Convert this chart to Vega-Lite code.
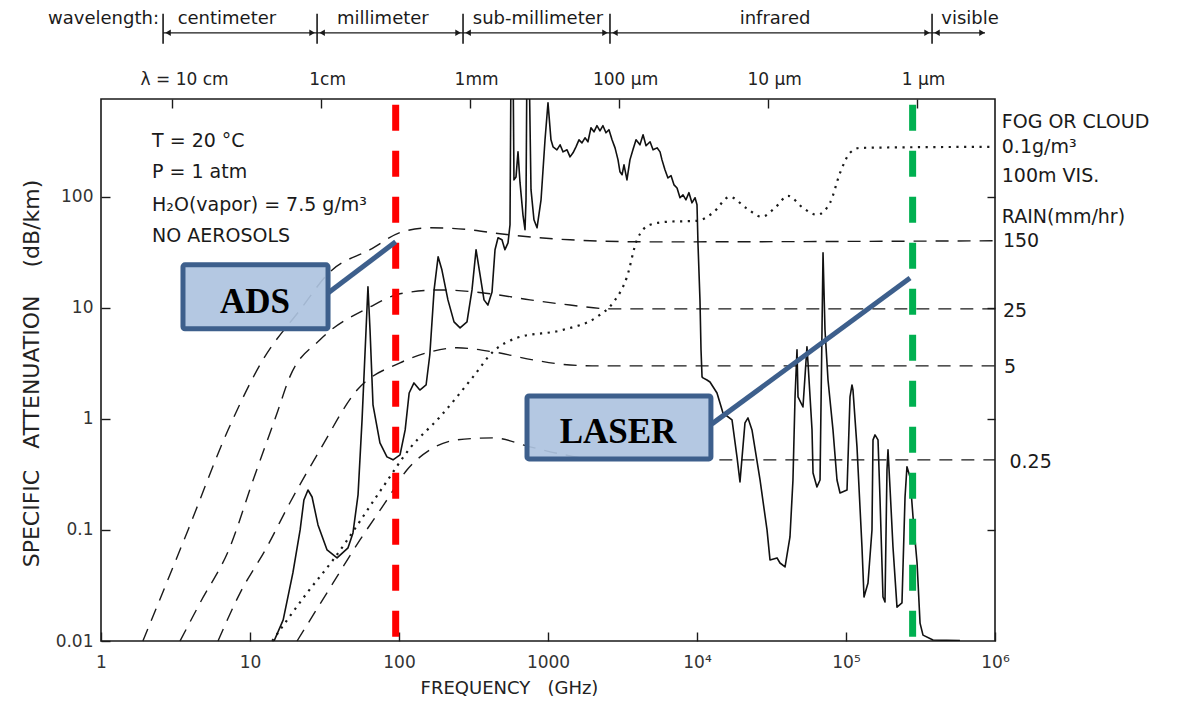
{
  "$schema": "https://vega.github.io/schema/vega-lite/v6.json",
  "width": 894,
  "height": 542,
  "autosize": {"type": "none"},
  "padding": {"left": 101, "top": 99, "right": 201, "bottom": 61},
  "background": "#ffffff",
  "config": {
    "view": {"stroke": "#1a1a1a", "strokeWidth": 1.6},
    "font": "DejaVu Sans",
    "axis": {"labelFont": "DejaVu Sans", "titleFont": "DejaVu Sans"}
  },
  "resolve": {"axis": {"x": "independent", "y": "independent"}},
  "datasets": {
    "rain": [
      {"s": "150", "f": 1.91, "a": 0.01}, {"s": "150", "f": 3.84, "a": 0.1}, {"s": "150", "f": 7.12, "a": 0.794}, {"s": "150", "f": 12.2, "a": 3.4}, {"s": "150", "f": 21.7, "a": 9.6}, {"s": "150", "f": 34.4, "a": 21.1}, {"s": "150", "f": 63.9, "a": 33.4}, {"s": "150", "f": 105, "a": 48.4}, {"s": "150", "f": 161, "a": 52.6}, {"s": "150", "f": 300, "a": 50.5}, {"s": "150", "f": 476, "a": 46.5}, {"s": "150", "f": 1406, "a": 41.0}, {"s": "150", "f": 4840, "a": 39.3}, {"s": "150", "f": 1000000, "a": 40.2},
      {"s": "25", "f": 3.39, "a": 0.01}, {"s": "25", "f": 4.62, "a": 0.022}, {"s": "25", "f": 7.34, "a": 0.0703}, {"s": "25", "f": 10.5, "a": 0.282}, {"s": "25", "f": 15.2, "a": 1.13}, {"s": "25", "f": 18.5, "a": 2.39}, {"s": "25", "f": 29.5, "a": 5.15}, {"s": "25", "f": 63.9, "a": 10.2}, {"s": "25", "f": 101.6, "a": 13.4}, {"s": "25", "f": 188, "a": 14.5}, {"s": "25", "f": 408, "a": 13.4}, {"s": "25", "f": 757, "a": 11.8}, {"s": "25", "f": 1406, "a": 10.6}, {"s": "25", "f": 2606, "a": 9.8}, {"s": "25", "f": 1000000, "a": 9.8},
      {"s": "5", "f": 6.1, "a": 0.01}, {"s": "5", "f": 8.57, "a": 0.027}, {"s": "5", "f": 13.0, "a": 0.0703}, {"s": "5", "f": 18.5, "a": 0.175}, {"s": "5", "f": 29.5, "a": 0.526}, {"s": "5", "f": 52.3, "a": 1.82}, {"s": "5", "f": 101.6, "a": 3.2}, {"s": "5", "f": 154, "a": 3.94}, {"s": "5", "f": 245, "a": 4.37}, {"s": "5", "f": 427, "a": 4.02}, {"s": "5", "f": 793, "a": 3.4}, {"s": "5", "f": 1406, "a": 3.06}, {"s": "5", "f": 2232, "a": 3.0}, {"s": "5", "f": 1000000, "a": 3.0},
      {"s": "0.25", "f": 20.7, "a": 0.01}, {"s": "0.25", "f": 34.4, "a": 0.03}, {"s": "0.25", "f": 54.7, "a": 0.0813}, {"s": "0.25", "f": 80.5, "a": 0.175}, {"s": "0.25", "f": 113, "a": 0.347}, {"s": "0.25", "f": 161, "a": 0.526}, {"s": "0.25", "f": 245, "a": 0.647}, {"s": "0.25", "f": 427, "a": 0.675}, {"s": "0.25", "f": 757, "a": 0.56}, {"s": "0.25", "f": 1300, "a": 0.474}, {"s": "0.25", "f": 2232, "a": 0.428}, {"s": "0.25", "f": 1000000, "a": 0.428}
    ],
    "fog": [
      {"f": 14.1, "a": 0.01}, {"f": 24.1, "a": 0.027}, {"f": 36.1, "a": 0.0537}, {"f": 78.1, "a": 0.244}, {"f": 119, "a": 0.548}, {"f": 188, "a": 1.04}, {"f": 314, "a": 2.39}, {"f": 427, "a": 4.02}, {"f": 620, "a": 5.37}, {"f": 1262, "a": 6.34}, {"f": 2133, "a": 8.3}, {"f": 2730, "a": 11.1}, {"f": 3388, "a": 19.0}, {"f": 3956, "a": 41.0}, {"f": 4840, "a": 56.0}, {"f": 6295, "a": 59.6}, {"f": 10000, "a": 60.8}, {"f": 12800, "a": 71.8}, {"f": 16600, "a": 100}, {"f": 21300, "a": 79.6}, {"f": 27300, "a": 66.1}, {"f": 33900, "a": 81.3}, {"f": 40800, "a": 102}, {"f": 51400, "a": 79.6}, {"f": 63800, "a": 68.9}, {"f": 78100, "a": 88.3}, {"f": 91200, "a": 164}, {"f": 106400, "a": 249}, {"f": 124000, "a": 276}, {"f": 925000, "a": 282}
    ],
    "clear": [
      {"f": 14.5, "a": 0.01}, {"f": 16.7, "a": 0.0155}, {"f": 19.4, "a": 0.041}, {"f": 21.7, "a": 0.1}, {"f": 23.0, "a": 0.186}, {"f": 24.5, "a": 0.229}, {"f": 26.1, "a": 0.198}, {"f": 28.6, "a": 0.111}, {"f": 32.9, "a": 0.066}, {"f": 38.4, "a": 0.056}, {"f": 45.5, "a": 0.069}, {"f": 49.1, "a": 0.094}, {"f": 53.1, "a": 0.207}, {"f": 56.5, "a": 0.98}, {"f": 60.1, "a": 6.34}, {"f": 61.9, "a": 15.5}, {"f": 63.9, "a": 6.34}, {"f": 66.9, "a": 1.34}, {"f": 74.5, "a": 0.608}, {"f": 83.0, "a": 0.455}, {"f": 91.2, "a": 0.428}, {"f": 101.6, "a": 0.474}, {"f": 110, "a": 0.796}, {"f": 117, "a": 1.71}, {"f": 126, "a": 2.11}, {"f": 138, "a": 1.82}, {"f": 152, "a": 2.02}, {"f": 161, "a": 3.78}, {"f": 172, "a": 14.5}, {"f": 183, "a": 28.8}, {"f": 194, "a": 22.0}, {"f": 213, "a": 11.8}, {"f": 234, "a": 7.48}, {"f": 257, "a": 6.61}, {"f": 286, "a": 7.48}, {"f": 309, "a": 14.5}, {"f": 329, "a": 33.4}, {"f": 350, "a": 19.8}, {"f": 372, "a": 11.8}, {"f": 395, "a": 10.6}, {"f": 421, "a": 13.9}, {"f": 441, "a": 33.4}, {"f": 462, "a": 42.8}, {"f": 491, "a": 41.0}, {"f": 514, "a": 33.4}, {"f": 539, "a": 38.5}, {"f": 556, "a": 56.0}, {"f": 565, "a": 2000}, {"f": 582, "a": 2000}, {"f": 591, "a": 142}, {"f": 610, "a": 151}, {"f": 629, "a": 254}, {"f": 649, "a": 134}, {"f": 679, "a": 68.9}, {"f": 701, "a": 50.5}, {"f": 712, "a": 94}, {"f": 723, "a": 2000}, {"f": 745, "a": 2000}, {"f": 769, "a": 116}, {"f": 805, "a": 62.1}, {"f": 844, "a": 52.6}, {"f": 898, "a": 94}, {"f": 955, "a": 326}, {"f": 1000, "a": 703}, {"f": 1047, "a": 326},
      {"f": 1081, "a": 282}, {"f": 1148, "a": 265}, {"f": 1205, "a": 294}, {"f": 1262, "a": 254}, {"f": 1342, "a": 265}, {"f": 1406, "a": 229}, {"f": 1472, "a": 249}, {"f": 1541, "a": 282}, {"f": 1614, "a": 326}, {"f": 1690, "a": 306}, {"f": 1771, "a": 340}, {"f": 1854, "a": 313}, {"f": 1943, "a": 419}, {"f": 2035, "a": 385}, {"f": 2131, "a": 437}, {"f": 2232, "a": 393}, {"f": 2338, "a": 437}, {"f": 2449, "a": 377}, {"f": 2565, "a": 402}, {"f": 2690, "a": 326}, {"f": 2818, "a": 276}, {"f": 2951, "a": 215}, {"f": 3041, "a": 168}, {"f": 3141, "a": 158}, {"f": 3236, "a": 194}, {"f": 3388, "a": 142}, {"f": 3548, "a": 215}, {"f": 3715, "a": 265}, {"f": 3899, "a": 326}, {"f": 4140, "a": 294}, {"f": 4345, "a": 362}, {"f": 4550, "a": 288}, {"f": 4842, "a": 313}, {"f": 5070, "a": 265}, {"f": 5395, "a": 276}, {"f": 5649, "a": 254}, {"f": 5821, "a": 215}, {"f": 6095, "a": 175}, {"f": 6383, "a": 148}, {"f": 6699, "a": 155}, {"f": 7015, "a": 128}, {"f": 7345, "a": 120}, {"f": 7691, "a": 98}, {"f": 8054, "a": 104}, {"f": 8433, "a": 94}, {"f": 8831, "a": 109}, {"f": 9247, "a": 88.3}, {"f": 9705, "a": 98}, {"f": 10000, "a": 84.7}, {"f": 10160, "a": 37.0}, {"f": 10470, "a": 11.8}, {"f": 10640, "a": 4.19}, {"f": 10810, "a": 2.39},
      {"f": 10970, "a": 2.34}, {"f": 11670, "a": 2.24}, {"f": 12220, "a": 2.15}, {"f": 13620, "a": 1.71}, {"f": 14940, "a": 1.13}, {"f": 17180, "a": 0.98}, {"f": 18550, "a": 0.455}, {"f": 19430, "a": 0.271}, {"f": 20990, "a": 0.92}, {"f": 21990, "a": 1.02}, {"f": 23390, "a": 0.796}, {"f": 26490, "a": 0.282}, {"f": 29510, "a": 0.1}, {"f": 30900, "a": 0.0537}, {"f": 34440, "a": 0.056}, {"f": 36060, "a": 0.0504}, {"f": 38990, "a": 0.0464}, {"f": 42070, "a": 0.0865}, {"f": 44060, "a": 0.282}, {"f": 45500, "a": 1.58}, {"f": 46900, "a": 4.19}, {"f": 47640, "a": 1.58}, {"f": 51430, "a": 1.28}, {"f": 54700, "a": 4.45}, {"f": 55590, "a": 3.2}, {"f": 59150, "a": 0.796}, {"f": 60080, "a": 0.326}, {"f": 63830, "a": 0.244}, {"f": 66950, "a": 0.282}, {"f": 69020, "a": 6.34}, {"f": 70120, "a": 31.3}, {"f": 72280, "a": 6.34}, {"f": 75730, "a": 2.24}, {"f": 81780, "a": 0.796}, {"f": 87000, "a": 0.282}, {"f": 91180, "a": 0.215}, {"f": 101600, "a": 0.229}, {"f": 106400, "a": 1.58}, {"f": 109700, "a": 2.02}, {"f": 111400, "a": 1.82}, {"f": 118500, "a": 0.56}, {"f": 128000, "a": 0.0703}, {"f": 132100, "a": 0.0249}, {"f": 140500, "a": 0.0333}, {"f": 149400, "a": 0.1}, {"f": 151800, "a": 0.647}, {"f": 156600, "a": 0.718}, {"f": 164000, "a": 0.647}, {"f": 169000, "a": 0.198}, {"f": 177100, "a": 0.0249}, {"f": 182700, "a": 0.0225}, {"f": 188400, "a": 0.347}, {"f": 191400, "a": 0.526}, {"f": 197300, "a": 0.244}, {"f": 206700, "a": 0.0703}, {"f": 219900, "a": 0.0202}, {"f": 237500, "a": 0.022}, {"f": 249000, "a": 0.198}, {"f": 256500, "a": 0.37}, {"f": 268900, "a": 0.3}, {"f": 281700, "a": 0.131}, {"f": 299900, "a": 0.0504}, {"f": 314000, "a": 0.0145}, {"f": 328700, "a": 0.0113}, {"f": 383700, "a": 0.0102}, {"f": 582000, "a": 0.0101}
    ],
    "vlines": [
      {"name": "ADS", "f": 95, "a": 674, "a2": 0.01},
      {"name": "LASER", "f": 280000, "a": 674, "a2": 0.01}
    ],
    "connectors": [
      {"name": "ADS", "f": 33.4, "a": 13.6, "f2": 95, "a2": 39.3},
      {"name": "LASER", "f": 12600, "a": 0.902, "f2": 269000, "a2": 18.6}
    ],
    "boxes": [
      {"name": "ADS", "f": 3.55, "f2": 33.4, "a": 24.4, "a2": 6.47},
      {"name": "LASER", "f": 723, "f2": 12400, "a": 1.61, "a2": 0.436}
    ],
    "boxtext": [
      {"t": "ADS", "f": 10.8, "a": 9.02},
      {"t": "LASER", "f": 2951, "a": 0.608}
    ],
    "conds": [
      {"t": "T = 20 °C", "f": 2.2, "a": 282},
      {"t": "P = 1 atm", "f": 2.2, "a": 148},
      {"t": "H₂O(vapor) = 7.5 g/m³", "f": 2.2, "a": 74.8},
      {"t": "NO AEROSOLS", "f": 2.2, "a": 39.3}
    ],
    "rightlabels": [
      {"t": "FOG OR CLOUD", "f": 1110000, "a": 419},
      {"t": "0.1g/m³", "f": 1110000, "a": 249},
      {"t": "100m VIS.", "f": 1110000, "a": 136},
      {"t": "RAIN(mm/hr)", "f": 1110000, "a": 58.3},
      {"t": "150", "f": 1130000, "a": 35.5},
      {"t": "25", "f": 1130000, "a": 8.3},
      {"t": "5", "f": 1150000, "a": 2.59},
      {"t": "0.25", "f": 1250000, "a": 0.362}
    ],
    "bandlabels": [
      {"t": "centimeter", "f": 7.0, "a": 3620},
      {"t": "millimeter", "f": 78, "a": 3620},
      {"t": "sub-millimeter", "f": 857, "a": 3620},
      {"t": "infrared", "f": 33400, "a": 3620},
      {"t": "visible", "f": 680000, "a": 3620}
    ],
    "bandbars": [
      {"f": 2.61, "a": 4460, "a2": 2390},
      {"f": 28.2, "a": 4460, "a2": 2390},
      {"f": 269, "a": 4460, "a2": 2390},
      {"f": 2606, "a": 4460, "a2": 2390},
      {"f": 378000, "a": 4460, "a2": 2390}
    ],
    "bandlines": [
      {"f": 2.61, "f2": 28.2, "a": 3000},
      {"f": 28.2, "f2": 269, "a": 3000},
      {"f": 269, "f2": 2606, "a": 3000},
      {"f": 2606, "f2": 378000, "a": 3000},
      {"f": 378000, "f2": 857000, "a": 3000}
    ],
    "arrows": [
      {"d": "L", "f": 2.82, "a": 3000}, {"d": "R", "f": 26.1, "a": 3000},
      {"d": "L", "f": 30.5, "a": 3000}, {"d": "R", "f": 249, "a": 3000},
      {"d": "L", "f": 291, "a": 3000}, {"d": "R", "f": 2413, "a": 3000},
      {"d": "L", "f": 2814, "a": 3000}, {"d": "R", "f": 350000, "a": 3000},
      {"d": "L", "f": 408000, "a": 3000}, {"d": "R", "f": 818000, "a": 3000}
    ]
  },
  "layer": [
    {
      "data": {"values": [{"f": 1, "a": 0.01}]},
      "mark": {"type": "point", "opacity": 0},
      "encoding": {
        "x": {"field": "f", "type": "quantitative", "scale": {"type": "log", "domain": [1, 1000000], "nice": false},
          "axis": {"orient": "bottom", "values": [1, 10, 100, 1000, 10000, 100000, 1000000],
            "labelExpr": "datum.value >= 10000 ? (datum.value == 10000 ? '10⁴' : (datum.value == 100000 ? '10⁵' : '10⁶')) : format(datum.value, '~g')",
            "domain": false, "grid": false, "tickSize": -9, "tickWidth": 1.4, "tickColor": "#1a1a1a",
            "labelPadding": 22, "labelFontSize": 17, "labelColor": "#333333", "labelFlush": false, "labelOverlap": false,
            "title": "FREQUENCY\u00a0\u00a0\u00a0(GHz)", "titleFontSize": 18, "titleFontWeight": "normal", "titleColor": "#222222",
            "titleX": 408, "titleY": 47, "titleAlign": "center", "titleBaseline": "middle"}},
        "y": {"field": "a", "type": "quantitative", "scale": {"type": "log", "domain": [0.01, 760], "nice": false},
          "axis": {"orient": "left", "values": [0.01, 0.1, 1, 10, 100], "labelExpr": "format(datum.value, '~g')",
            "domain": false, "grid": false, "tickSize": -9, "tickWidth": 1.4, "tickColor": "#1a1a1a",
            "labelPadding": 17, "labelFontSize": 17, "labelColor": "#333333", "labelFlush": false, "labelOverlap": false,
            "title": "SPECIFIC\u00a0\u00a0\u00a0ATTENUATION\u00a0\u00a0\u00a0\u00a0(dB/km)", "titleFontSize": 22, "titleFontWeight": "normal", "titleColor": "#222222",
            "titleAngle": -90, "titleX": -70, "titleY": 274, "titleAlign": "center", "titleBaseline": "middle"}}
      }
    },
    {
      "data": {"values": [{"f": 1, "a": 0.01}]},
      "mark": {"type": "point", "opacity": 0},
      "encoding": {
        "x": {"field": "f", "type": "quantitative", "scale": {"type": "log", "domain": [1, 1000000], "nice": false},
          "axis": {"orient": "top", "values": [3, 30, 300, 3000, 30000, 300000],
            "labelExpr": "datum.value == 3 ? 'λ = 10 cm' : (datum.value == 30 ? '1cm' : (datum.value == 300 ? '1mm' : (datum.value == 3000 ? '100 μm' : (datum.value == 30000 ? '10 μm' : '1 μm'))))",
            "domain": false, "grid": false, "tickSize": -9, "tickWidth": 1.4, "tickColor": "#1a1a1a",
            "labelPadding": 20, "labelOffset": {"condition": {"test": "datum.value == 3", "value": 12}, "value": 6},
            "labelFontSize": 17, "labelColor": "#222222", "labelFlush": false, "labelOverlap": false, "title": null}},
        "y": {"field": "a", "type": "quantitative", "scale": {"type": "log", "domain": [0.01, 760], "nice": false},
          "axis": {"orient": "right", "values": [0.1, 1, 10, 100], "labels": false, "domain": false, "grid": false,
            "tickSize": -8, "tickWidth": 1.4, "tickColor": "#1a1a1a", "title": null}}
      }
    },
    {
      "data": {"name": "rain"},
      "mark": {"type": "line", "stroke": "#1a1a1a", "strokeWidth": 1.4, "strokeDash": [13, 9], "interpolate": "monotone"},
      "encoding": {
        "x": {"field": "f", "type": "quantitative", "scale": {"type": "log", "domain": [1, 1000000], "nice": false}, "axis": null},
        "y": {"field": "a", "type": "quantitative", "scale": {"type": "log", "domain": [0.01, 760], "nice": false}, "axis": null},
        "detail": {"field": "s", "type": "nominal"}
      }
    },
    {
      "data": {"name": "fog"},
      "mark": {"type": "line", "stroke": "#1a1a1a", "strokeWidth": 2.2, "strokeDash": [2.2, 5.5], "interpolate": "monotone"},
      "encoding": {
        "x": {"field": "f", "type": "quantitative", "scale": {"type": "log", "domain": [1, 1000000], "nice": false}, "axis": null},
        "y": {"field": "a", "type": "quantitative", "scale": {"type": "log", "domain": [0.01, 760], "nice": false}, "axis": null}
      }
    },
    {
      "data": {"name": "clear"},
      "mark": {"type": "line", "stroke": "#111111", "strokeWidth": 1.6, "strokeJoin": "round", "clip": true},
      "encoding": {
        "x": {"field": "f", "type": "quantitative", "scale": {"type": "log", "domain": [1, 1000000], "nice": false}, "axis": null},
        "y": {"field": "a", "type": "quantitative", "scale": {"type": "log", "domain": [0.01, 760], "nice": false}, "axis": null}
      }
    },
    {
      "data": {"name": "vlines"},
      "mark": {"type": "rule", "strokeWidth": 7, "strokeDash": [26, 20]},
      "encoding": {
        "x": {"field": "f", "type": "quantitative", "scale": {"type": "log", "domain": [1, 1000000], "nice": false}, "axis": null},
        "y": {"field": "a", "type": "quantitative", "scale": {"type": "log", "domain": [0.01, 760], "nice": false}, "axis": null},
        "y2": {"field": "a2"},
        "color": {"field": "name", "type": "nominal", "scale": {"domain": ["ADS", "LASER"], "range": ["#ff0000", "#00b050"]}, "legend": null}
      }
    },
    {
      "data": {"name": "connectors"},
      "mark": {"type": "rule", "strokeWidth": 5, "stroke": "#3d5f8c"},
      "encoding": {
        "x": {"field": "f", "type": "quantitative", "scale": {"type": "log", "domain": [1, 1000000], "nice": false}, "axis": null},
        "y": {"field": "a", "type": "quantitative", "scale": {"type": "log", "domain": [0.01, 760], "nice": false}, "axis": null},
        "x2": {"field": "f2"},
        "y2": {"field": "a2"}
      }
    },
    {
      "data": {"name": "boxes"},
      "mark": {"type": "rect", "fill": "#aec3df", "fillOpacity": 0.92, "stroke": "#3d5f8c", "strokeWidth": 5, "cornerRadius": 2},
      "encoding": {
        "x": {"field": "f", "type": "quantitative", "scale": {"type": "log", "domain": [1, 1000000], "nice": false}, "axis": null},
        "y": {"field": "a", "type": "quantitative", "scale": {"type": "log", "domain": [0.01, 760], "nice": false}, "axis": null},
        "x2": {"field": "f2"},
        "y2": {"field": "a2"}
      }
    },
    {
      "data": {"name": "boxtext"},
      "mark": {"type": "text", "font": "Liberation Serif", "fontWeight": "bold", "fontSize": 35, "align": "center", "baseline": "alphabetic", "color": "#000000"},
      "encoding": {
        "x": {"field": "f", "type": "quantitative", "scale": {"type": "log", "domain": [1, 1000000], "nice": false}, "axis": null},
        "y": {"field": "a", "type": "quantitative", "scale": {"type": "log", "domain": [0.01, 760], "nice": false}, "axis": null},
        "text": {"field": "t"}
      }
    },
    {
      "data": {"name": "conds"},
      "mark": {"type": "text", "font": "DejaVu Sans", "fontSize": 19, "align": "left", "baseline": "alphabetic", "color": "#1a1a1a"},
      "encoding": {
        "x": {"field": "f", "type": "quantitative", "scale": {"type": "log", "domain": [1, 1000000], "nice": false}, "axis": null},
        "y": {"field": "a", "type": "quantitative", "scale": {"type": "log", "domain": [0.01, 760], "nice": false}, "axis": null},
        "text": {"field": "t"}
      }
    },
    {
      "data": {"name": "rightlabels"},
      "mark": {"type": "text", "font": "DejaVu Sans", "fontSize": 19, "align": "left", "baseline": "alphabetic", "color": "#1a1a1a"},
      "encoding": {
        "x": {"field": "f", "type": "quantitative", "scale": {"type": "log", "domain": [1, 1000000], "nice": false}, "axis": null},
        "y": {"field": "a", "type": "quantitative", "scale": {"type": "log", "domain": [0.01, 760], "nice": false}, "axis": null},
        "text": {"field": "t"}
      }
    },
    {
      "data": {"values": [{"t": "wavelength:", "f": 2.45, "a": 3620}]},
      "mark": {"type": "text", "font": "DejaVu Sans", "fontSize": 18, "align": "right", "baseline": "alphabetic", "color": "#1a1a1a"},
      "encoding": {
        "x": {"field": "f", "type": "quantitative", "scale": {"type": "log", "domain": [1, 1000000], "nice": false}, "axis": null},
        "y": {"field": "a", "type": "quantitative", "scale": {"type": "log", "domain": [0.01, 760], "nice": false}, "axis": null},
        "text": {"field": "t"}
      }
    },
    {
      "data": {"name": "bandlabels"},
      "mark": {"type": "text", "font": "DejaVu Sans", "fontSize": 18, "align": "center", "baseline": "alphabetic", "color": "#1a1a1a"},
      "encoding": {
        "x": {"field": "f", "type": "quantitative", "scale": {"type": "log", "domain": [1, 1000000], "nice": false}, "axis": null},
        "y": {"field": "a", "type": "quantitative", "scale": {"type": "log", "domain": [0.01, 760], "nice": false}, "axis": null},
        "text": {"field": "t"}
      }
    },
    {
      "data": {"name": "bandbars"},
      "mark": {"type": "rule", "stroke": "#1a1a1a", "strokeWidth": 1.6},
      "encoding": {
        "x": {"field": "f", "type": "quantitative", "scale": {"type": "log", "domain": [1, 1000000], "nice": false}, "axis": null},
        "y": {"field": "a", "type": "quantitative", "scale": {"type": "log", "domain": [0.01, 760], "nice": false}, "axis": null},
        "y2": {"field": "a2"}
      }
    },
    {
      "data": {"name": "bandlines"},
      "mark": {"type": "rule", "stroke": "#1a1a1a", "strokeWidth": 1.2},
      "encoding": {
        "x": {"field": "f", "type": "quantitative", "scale": {"type": "log", "domain": [1, 1000000], "nice": false}, "axis": null},
        "y": {"field": "a", "type": "quantitative", "scale": {"type": "log", "domain": [0.01, 760], "nice": false}, "axis": null},
        "x2": {"field": "f2"}
      }
    },
    {
      "data": {"name": "arrows"},
      "mark": {"type": "point", "filled": true, "size": 40, "color": "#1a1a1a", "opacity": 1},
      "encoding": {
        "x": {"field": "f", "type": "quantitative", "scale": {"type": "log", "domain": [1, 1000000], "nice": false}, "axis": null},
        "y": {"field": "a", "type": "quantitative", "scale": {"type": "log", "domain": [0.01, 760], "nice": false}, "axis": null},
        "shape": {"field": "d", "type": "nominal", "scale": {"domain": ["L", "R"], "range": ["triangle-left", "triangle-right"]}, "legend": null}
      }
    }
  ]
}
